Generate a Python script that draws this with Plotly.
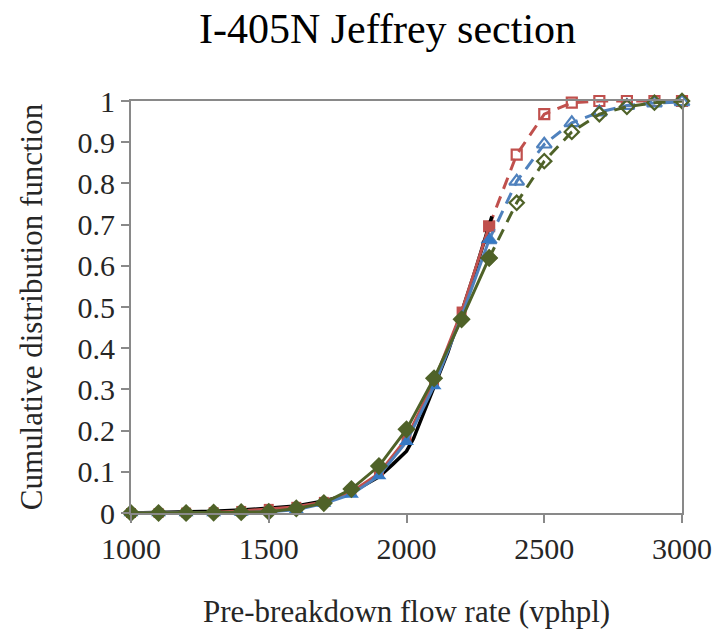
import plotly.graph_objects as go

# Flow-rate categories (vphpl)
x_solid = [1000, 1100, 1200, 1300, 1400, 1500, 1600, 1700, 1800, 1900, 2000, 2100, 2200, 2300]
x_dash = [2300, 2400, 2500, 2600, 2700, 2800, 2900, 3000]

# Empirical CDF (black)
x_emp = [1000, 1100, 1200, 1300, 1400, 1500, 1600, 1700, 1750, 1800, 1850, 1900, 1950,
         1975, 2000, 2025, 2050, 2075, 2100, 2150, 2175, 2200, 2250, 2300, 2310]
y_emp = [0.000, 0.001, 0.002, 0.004, 0.007, 0.012, 0.017, 0.029, 0.038, 0.050, 0.068, 0.088, 0.118,
         0.135, 0.150, 0.180, 0.222, 0.262, 0.305, 0.390, 0.440, 0.487, 0.590, 0.700, 0.720]

# Fitted model 1 (red squares)
red_solid = [0.000, 0.000, 0.001, 0.002, 0.005, 0.010, 0.015, 0.027, 0.051, 0.096, 0.181, 0.319, 0.489, 0.696]
red_dash = [0.696, 0.870, 0.968, 0.996, 1.000, 1.000, 1.000, 1.000]

# Fitted model 2 (blue triangles)
blue_solid = [0.000, 0.000, 0.000, 0.000, 0.001, 0.003, 0.008, 0.023, 0.045, 0.090, 0.173, 0.308, 0.477, 0.663]
blue_dash = [0.663, 0.805, 0.895, 0.947, 0.973, 0.989, 0.995, 0.998]

# Fitted model 3 (green diamonds)
green_solid = [0.000, 0.000, 0.000, 0.001, 0.002, 0.003, 0.011, 0.024, 0.058, 0.114, 0.203, 0.327, 0.470, 0.619]
green_dash = [0.619, 0.753, 0.854, 0.925, 0.968, 0.986, 0.996, 1.000]

RED = "#C0504D"
BLUE = "#4F81BD"
BLUE_F = "#3579C4"
GREEN = "#4F6228"
FONT = "Liberation Serif"

fig = go.Figure()

# dashed (extrapolated) parts with open markers
for ys, col, sym, size in [(red_dash, RED, "square-open", 10),
                           (blue_dash, BLUE, "triangle-up-open", 13),
                           (green_dash, GREEN, "diamond-open", 11)]:
    fig.add_trace(go.Scatter(x=x_dash, y=ys, mode="lines+markers",
                             line=dict(color=col, width=3, dash="12px,8px"),
                             marker=dict(symbol=sym, size=size, color=col, line=dict(width=2.2, color=col)),
                             cliponaxis=False, showlegend=False))

# empirical
fig.add_trace(go.Scatter(x=x_emp, y=y_emp, mode="lines", line=dict(color="black", width=3.5),
                         cliponaxis=False, showlegend=False))

# solid parts with filled markers
for ys, col, mcol, sym, size in [(red_solid, RED, RED, "square", 10),
                                 (blue_solid, BLUE, BLUE_F, "triangle-up", 13),
                                 (green_solid, GREEN, GREEN, "diamond", 14)]:
    fig.add_trace(go.Scatter(x=x_solid, y=ys, mode="lines+markers",
                             line=dict(color=col, width=3),
                             marker=dict(symbol=sym, size=size, color=mcol),
                             cliponaxis=False, showlegend=False))

fig.update_layout(
    width=715, height=634,
    margin=dict(l=131, r=33, t=101, b=121),
    paper_bgcolor="white", plot_bgcolor="white",
    font=dict(family=FONT, size=30, color="#262626"),
    title=dict(text="I-405N Jeffrey section", x=0.542, xanchor="center", y=0.955, yanchor="middle",
               font=dict(family=FONT, size=42, color="black")),
)
fig.update_xaxes(range=[1000, 3000], tickvals=[1000, 1500, 2000, 2500, 3000],
                 ticks="outside", ticklen=8, tickwidth=1.5, tickcolor="#898989",
                 showline=True, linecolor="#898989", linewidth=2, mirror=True,
                 showgrid=False, zeroline=False, automargin=False,
                 tickfont=dict(family=FONT, size=30, color="#262626"),
                 title=dict(text="Pre-breakdown flow rate (vphpl)",
                            font=dict(family=FONT, size=31, color="#262626"), standoff=36))
fig.update_yaxes(range=[0, 1], tickvals=[0, 0.1, 0.2, 0.3, 0.4, 0.5, 0.6, 0.7, 0.8, 0.9, 1],
                 ticktext=["0", "0.1", "0.2", "0.3", "0.4", "0.5", "0.6", "0.7", "0.8", "0.9", "1"],
                 ticks="outside", ticklen=8, tickwidth=1.5, tickcolor="#898989",
                 showline=True, linecolor="#898989", linewidth=2, mirror=True,
                 showgrid=False, zeroline=False, automargin=False,
                 tickfont=dict(family=FONT, size=30, color="#262626"),
                 title=dict(text="Cumulative distribution function",
                            font=dict(family=FONT, size=31, color="#262626"), standoff=26))

fig.write_html("out.html")
